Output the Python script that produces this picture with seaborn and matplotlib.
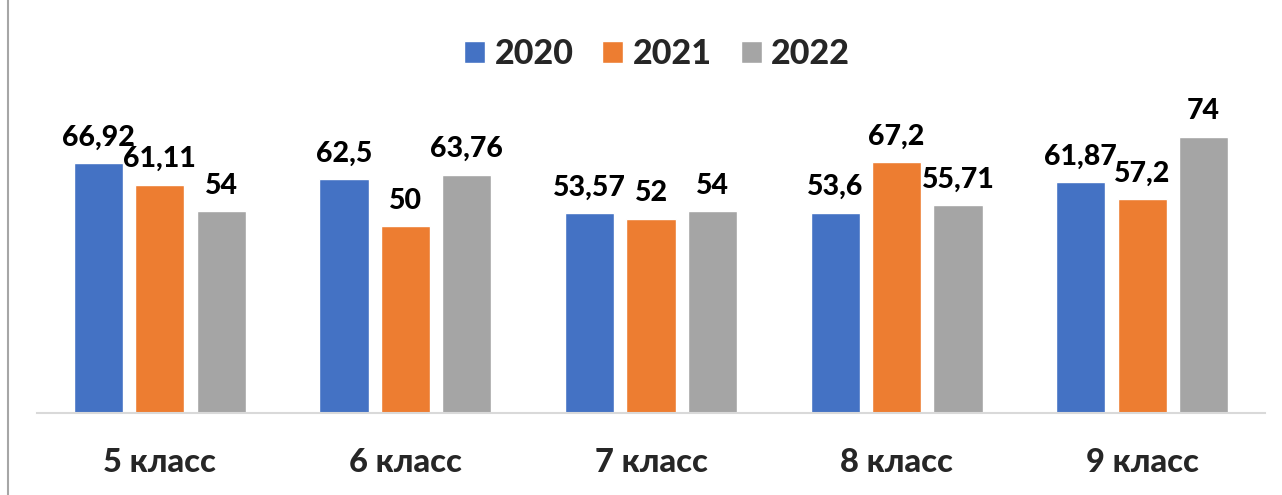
import pandas as pd
import numpy as np
import matplotlib.pyplot as plt
import seaborn as sns
from matplotlib.lines import Line2D

# data
classes = ['5 класс', '6 класс', '7 класс', '8 класс', '9 класс']
years = ['2020', '2021', '2022']
vals_2020 = [66.92, 62.5, 53.57, 53.6, 61.87]
vals_2021 = [61.11, 50, 52, 67.2, 57.2]
vals_2022 = [54, 63.76, 54, 55.71, 74]
colors = ['#4472C4', '#ED7D31', '#A5A5A5']

df = pd.DataFrame({
    'Class': classes * 3,
    'Year': [y for y in years for _ in classes],
    'Value': vals_2020 + vals_2021 + vals_2022,
})

sns.set_theme(style='white')
plt.rcParams['font.family'] = ['Lato', 'DejaVu Sans']
W = 'black'

fig = plt.figure(figsize=(12.82, 4.95), dpi=100)
ax = fig.add_axes([37 / 1282, 82 / 495, 1228 / 1282, 298.9 / 495])

sns.barplot(data=df, x='Class', y='Value', hue='Year', palette=colors,
            width=0.75, gap=0.2, errorbar=None, saturation=1, ax=ax)

# value labels with comma decimal
for cont in ax.containers:
    labs = [f'{b.get_height():g}'.replace('.', ',') for b in cont]
    ax.bar_label(cont, labels=labs, padding=9, fontsize=20.5,
                 fontweight=W, color='black')

ax.set_ylim(0, 80)
ax.set_xlim(-0.5, 4.5)
ax.set_xlabel('')
ax.set_ylabel('')
ax.set_yticks([])
ax.tick_params(axis='x', length=0, pad=25, labelsize=23.5)
for t in ax.get_xticklabels():
    t.set_fontweight(W)
for s in ['left', 'right', 'top']:
    ax.spines[s].set_visible(False)
ax.spines['bottom'].set_color('#d9d9d9')
ax.spines['bottom'].set_linewidth(1.5)

# legend on top
handles, labels = ax.get_legend_handles_labels()
ax.get_legend().remove()
fig.legend(handles, labels, loc='center', bbox_to_anchor=(657 / 1282, 1 - 54 / 495),
           ncol=3, frameon=False, handlelength=0.62, handleheight=0.62,
           handletextpad=0.27, columnspacing=0.85,
           prop={'size': 24.5, 'weight': W})

# left frame line
fig.add_artist(Line2D([7.5 / 1282, 7.5 / 1282], [0, 1], color='#a6a6a6', lw=1.5))

fig.savefig('out.png', dpi=100)
